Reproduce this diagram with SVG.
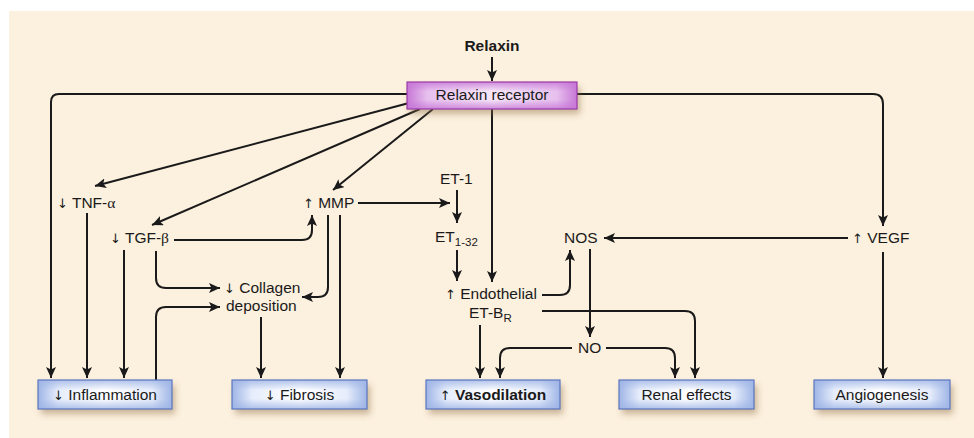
<svg xmlns="http://www.w3.org/2000/svg" width="974" height="438" viewBox="0 0 974 438">
<defs>
<style>
.t{font-family:"Liberation Sans",Arial,sans-serif;font-size:15.5px;fill:#1a1a1a}
.g{font-family:"Liberation Serif","Times New Roman",serif}
.a{font-family:"DejaVu Sans","Liberation Sans",sans-serif;font-size:13px;font-weight:normal;fill:#1a1a1a}
.c{fill:none;stroke:#1a1a1a;stroke-width:2;marker-end:url(#ah)}
.bb{stroke:#5a76bf;stroke-width:1.2}
.pb{stroke:#9a3aa8;stroke-width:1.2}
</style>
<marker id="ah" markerUnits="userSpaceOnUse" markerWidth="12" markerHeight="10" refX="11" refY="5" orient="auto">
<path d="M0,0 L11,5 L0,10 L2.5,5 z" fill="#1a1a1a"/>
</marker>
<linearGradient id="bh" x1="0" y1="0" x2="1" y2="0">
<stop offset="0" stop-color="#9fb5e6"/>
<stop offset="0.15" stop-color="#e6edfb"/>
<stop offset="0.5" stop-color="#ffffff"/>
<stop offset="0.85" stop-color="#e6edfb"/>
<stop offset="1" stop-color="#9fb5e6"/>
</linearGradient>
<linearGradient id="bv" x1="0" y1="0" x2="0" y2="1">
<stop offset="0" stop-color="#9fb5e6" stop-opacity="0.8"/>
<stop offset="0.35" stop-color="#9fb5e6" stop-opacity="0"/>
<stop offset="0.65" stop-color="#9fb5e6" stop-opacity="0"/>
<stop offset="1" stop-color="#9fb5e6" stop-opacity="0.8"/>
</linearGradient>
<linearGradient id="ph" x1="0" y1="0" x2="1" y2="0">
<stop offset="0" stop-color="#c677d6"/>
<stop offset="0.12" stop-color="#e7c0ee"/>
<stop offset="0.5" stop-color="#f6e6f8"/>
<stop offset="0.88" stop-color="#e7c0ee"/>
<stop offset="1" stop-color="#c677d6"/>
</linearGradient>
<linearGradient id="pv" x1="0" y1="0" x2="0" y2="1">
<stop offset="0" stop-color="#c677d6" stop-opacity="0.8"/>
<stop offset="0.35" stop-color="#c677d6" stop-opacity="0"/>
<stop offset="0.65" stop-color="#c677d6" stop-opacity="0"/>
<stop offset="1" stop-color="#c677d6" stop-opacity="0.8"/>
</linearGradient>
<filter id="sh" x="-10%" y="-30%" width="130%" height="180%">
<feDropShadow dx="3" dy="5" stdDeviation="3" flood-color="#8a6a40" flood-opacity="0.45"/>
</filter>
</defs>

<rect x="0" y="0" width="974" height="438" fill="#ffffff"/>
<rect x="9" y="11" width="965" height="427" fill="#fcf0de"/>

<g id="connectors">
<path class="c" d="M492,57 V81"/>
<path class="c" d="M407,94 H59 Q51,94 51,102 V378"/>
<path class="c" d="M577,94 H873 Q883,94 883,104 V226"/>
<path class="c" d="M409,103 L95,186"/>
<path class="c" d="M420,109 L152,225"/>
<path class="c" d="M433,109 L333,190"/>
<path class="c" d="M492,109 V282"/>
<path class="c" d="M87,213 V378"/>
<path class="c" d="M124,250 V378"/>
<path class="c" d="M174,240 H302 Q312,240 312,230 V215"/>
<path class="c" d="M156,251 V278 Q156,288 166,288 H220"/>
<path class="c" d="M156,380 V317 Q156,307 166,307 H220"/>
<path class="c" d="M328,215 V287 Q328,297 318,297 H302"/>
<path class="c" d="M340,215 V378"/>
<path class="c" d="M261,317 V378"/>
<path class="c" d="M358,203 H450"/>
<path class="c" d="M457,190 V223"/>
<path class="c" d="M457,250 V281"/>
<path class="c" d="M542,295 H560 Q570,295 570,285 V250"/>
<path class="c" d="M542,311 H685 Q695,311 695,321 V378"/>
<path class="c" d="M480,325 V378"/>
<path class="c" d="M848,238 H604"/>
<path class="c" d="M883,252 V378"/>
<path class="c" d="M590,249 V337"/>
<path class="c" d="M572,348 H510 Q500,348 500,358 V378"/>
<path class="c" d="M606,348 H665 Q675,348 675,358 V378"/>
</g>

<g id="relaxin">
<text class="t" x="492" y="51" text-anchor="middle" font-weight="bold" font-size="17.5">Relaxin</text>
</g>

<g id="receptor">
<g filter="url(#sh)">
<rect x="407" y="82" width="170" height="27" fill="url(#ph)"/>
</g>
<rect class="pb" x="407" y="82" width="170" height="27" fill="url(#pv)"/>
<text class="t" x="492" y="100" text-anchor="middle">Relaxin receptor</text>
</g>

<g id="tnf"><text class="t" x="57" y="208"><tspan class="a">↓</tspan> TNF-<tspan class="g">α</tspan></text></g>
<g id="tgf"><text class="t" x="110" y="243"><tspan class="a">↓</tspan> TGF-<tspan class="g">β</tspan></text></g>
<g id="mmp"><text class="t" x="303" y="208"><tspan class="a">↑</tspan> MMP</text></g>
<g id="et1"><text class="t" x="440" y="184">ET-1</text></g>
<g id="et132"><text class="t" x="435" y="242">ET<tspan font-size="11.5" dy="4">1-32</tspan></text></g>
<g id="endothelial">
<text class="t" x="445" y="299"><tspan class="a">↑</tspan> Endothelial</text>
<text class="t" x="469" y="318">ET-B<tspan font-size="11.5" dy="4">R</tspan></text>
</g>
<g id="collagen">
<text class="t" x="224" y="293"><tspan class="a">↓</tspan> Collagen</text>
<text class="t" x="226" y="311">deposition</text>
</g>
<g id="nos"><text class="t" x="564" y="243">NOS</text></g>
<g id="vegf"><text class="t" x="852" y="243"><tspan class="a">↑</tspan> VEGF</text></g>
<g id="no"><text class="t" x="578" y="353">NO</text></g>

<g id="inflammation">
<rect x="38" y="380" width="134" height="29" fill="url(#bh)" filter="url(#sh)"/>
<rect class="bb" x="38" y="380" width="134" height="29" fill="url(#bv)"/>
<text class="t" x="105" y="400" text-anchor="middle"><tspan class="a">↓</tspan> Inflammation</text>
</g>
<g id="fibrosis">
<rect x="232" y="380" width="135" height="29" fill="url(#bh)" filter="url(#sh)"/>
<rect class="bb" x="232" y="380" width="135" height="29" fill="url(#bv)"/>
<text class="t" x="299.5" y="400" text-anchor="middle"><tspan class="a">↓</tspan> Fibrosis</text>
</g>
<g id="vasodilation">
<rect x="426" y="380" width="134" height="29" fill="url(#bh)" filter="url(#sh)"/>
<rect class="bb" x="426" y="380" width="134" height="29" fill="url(#bv)"/>
<text class="t" x="493" y="400" text-anchor="middle"><tspan class="a">↑</tspan> <tspan font-weight="bold">Vasodilation</tspan></text>
</g>
<g id="renal">
<rect x="619" y="380" width="135" height="29" fill="url(#bh)" filter="url(#sh)"/>
<rect class="bb" x="619" y="380" width="135" height="29" fill="url(#bv)"/>
<text class="t" x="686.5" y="400" text-anchor="middle">Renal effects</text>
</g>
<g id="angiogenesis">
<rect x="814" y="380" width="136" height="29" fill="url(#bh)" filter="url(#sh)"/>
<rect class="bb" x="814" y="380" width="136" height="29" fill="url(#bv)"/>
<text class="t" x="882" y="400" text-anchor="middle">Angiogenesis</text>
</g>
</svg>
